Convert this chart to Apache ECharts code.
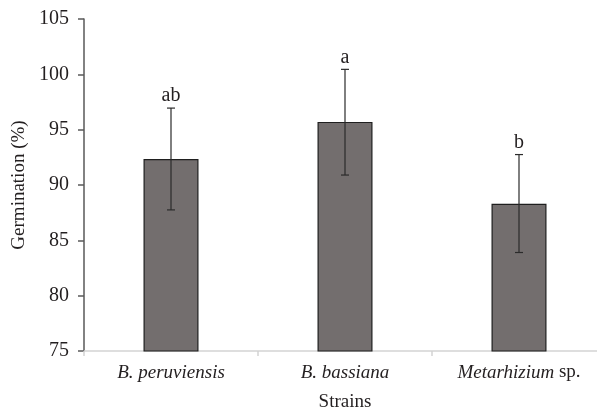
<!DOCTYPE html>
<html>
<head>
<meta charset="utf-8">
<script src="https://cdn.jsdelivr.net/npm/echarts@6/dist/echarts.min.js"></script>
<style>
  html, body { margin: 0; padding: 0; background: #fff; }
  #chart { width: 597px; height: 413px; }
</style>
</head>
<body>
<div id="chart"></div>
<script>
const strains = ['B. peruviensis', 'B. bassiana', 'Metarhizium sp.']
const germination = [92.35, 95.7, 88.3]
const errLow = [87.75, 90.9, 83.9]
const errHigh = [96.95, 100.45, 92.75]
const letters = ['ab', 'a', 'b']

const font = '"Liberation Serif", "DejaVu Serif", serif'
const textColor = '#231f20'
const chart = echarts.init(document.getElementById('chart'))

chart.setOption({
  animation: false,
  // axis runs a little past the right edge of the picture
  grid: { left: 84, width: 522, top: 19, bottom: 62, outerBoundsMode: 'none' },
  xAxis: {
    type: 'category',
    data: strains,
    name: 'Strains',
    nameLocation: 'middle',
    nameGap: 42,
    nameTextStyle: { fontFamily: font, fontSize: 19, color: textColor },
    axisLine: { lineStyle: { color: '#d4d4d4', width: 1.5 } },
    axisTick: { show: true, length: 5, lineStyle: { color: '#d4d4d4', width: 1.5 } },
    axisLabel: {
      interval: 0,
      margin: 12,
      fontFamily: font,
      fontSize: 19,
      color: textColor,
      formatter: function(value) {
        if (value.endsWith(' sp.')) {
          return '{i|' + value.slice(0, -4) + '} {n|sp.}'
        }
        return '{i|' + value + '}'
      },
      rich: {
        i: { fontFamily: font, fontSize: 19, fontStyle: 'italic', color: textColor },
        n: { fontFamily: font, fontSize: 19, fontStyle: 'normal', color: textColor }
      }
    }
  },
  yAxis: {
    type: 'value',
    min: 75,
    max: 105,
    interval: 5,
    name: 'Germination (%)',
    nameLocation: 'middle',
    nameGap: 48,
    nameTextStyle: { fontFamily: font, fontSize: 19, color: textColor },
    axisLine: { show: true, lineStyle: { color: '#595959', width: 1.5 } },
    axisTick: { show: true, length: 6, lineStyle: { color: '#595959', width: 1.5 } },
    axisLabel: { margin: 15, fontFamily: font, fontSize: 20, color: textColor },
    splitLine: { show: false }
  },
  series: [
    {
      type: 'bar',
      data: germination,
      barWidth: 55,
      itemStyle: { color: '#736e6e', borderColor: '#1f1f1f', borderWidth: 1.2 }
    },
    {
      type: 'custom',
      data: strains.map((s, i) => [i, errLow[i], errHigh[i]]),
      z: 10,
      renderItem: function(params, api) {
        const x = api.coord([api.value(0), api.value(1)])[0]
        const lo = api.coord([api.value(0), api.value(1)])[1]
        const hi = api.coord([api.value(0), api.value(2)])[1]
        const cap = 4
        const style = { stroke: '#2b2b2b', lineWidth: 1.2 }
        return {
          type: 'group',
          children: [
            { type: 'line', shape: { x1: x, y1: hi, x2: x, y2: lo }, style },
            { type: 'line', shape: { x1: x - cap, y1: hi, x2: x + cap, y2: hi }, style },
            { type: 'line', shape: { x1: x - cap, y1: lo, x2: x + cap, y2: lo }, style },
            {
              type: 'text',
              style: {
                x: x,
                y: hi - 12,
                text: letters[params.dataIndex],
                align: 'center',
                verticalAlign: 'middle',
                font: '20px ' + font,
                fill: textColor
              }
            }
          ]
        }
      }
    }
  ]
})
</script>
</body>
</html>
